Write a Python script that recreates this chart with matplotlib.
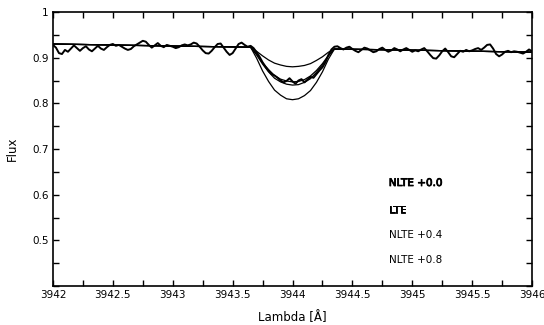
import numpy as np
import matplotlib
matplotlib.use('Agg')
import matplotlib.pyplot as plt
import matplotlib.patheffects as pe
from matplotlib.ticker import MultipleLocator

# observed spectrum, sampled every 0.025 A from 3942 to 3946
obs_lambda = np.linspace(3942.0, 3946.0, 161)
obs_flux = [
    0.928, 0.922, 0.910, 0.908, 0.917, 0.913, 0.920, 0.927, 0.921, 0.915,
    0.921, 0.925, 0.918, 0.914, 0.920, 0.926, 0.920, 0.917, 0.923, 0.928,
    0.930, 0.926, 0.928, 0.924, 0.920, 0.917, 0.919, 0.925, 0.929, 0.933,
    0.937, 0.935, 0.928, 0.922, 0.927, 0.932, 0.926, 0.923, 0.928, 0.926,
    0.924, 0.921, 0.923, 0.927, 0.929, 0.927, 0.929, 0.933, 0.931, 0.924,
    0.916, 0.910, 0.909, 0.915, 0.923, 0.930, 0.931, 0.922, 0.913, 0.906,
    0.910, 0.920, 0.930, 0.933, 0.928, 0.924, 0.926, 0.921, 0.912, 0.902,
    0.890, 0.880, 0.871, 0.864, 0.861, 0.856, 0.850, 0.846, 0.849, 0.855,
    0.848, 0.843, 0.850, 0.853, 0.846, 0.852, 0.858, 0.856, 0.864, 0.872,
    0.879, 0.890, 0.906, 0.918, 0.924, 0.925, 0.921, 0.918, 0.922, 0.924,
    0.919, 0.915, 0.912, 0.917, 0.922, 0.920, 0.916, 0.912, 0.914, 0.919,
    0.922, 0.917, 0.913, 0.916, 0.921, 0.918, 0.914, 0.918, 0.921, 0.917,
    0.913, 0.916, 0.914, 0.918, 0.921, 0.914, 0.906, 0.899, 0.898, 0.905,
    0.914, 0.920, 0.912, 0.903, 0.901, 0.908, 0.915, 0.913, 0.917, 0.914,
    0.916, 0.919, 0.921, 0.917, 0.922, 0.928, 0.929, 0.920, 0.908, 0.903,
    0.907, 0.913, 0.915, 0.912, 0.914, 0.913, 0.911, 0.909, 0.913, 0.918,
    0.914,
]

# synthetic profiles
model_lambda = [3942.0, 3943.0, 3943.65, 3943.7, 3943.75, 3943.8, 3943.85,
                3943.9, 3943.95, 3944.0, 3944.05, 3944.1, 3944.15, 3944.2,
                3944.25, 3944.3, 3944.35, 3945.0, 3946.0]
nlte_00 = [0.930, 0.9255, 0.923, 0.914, 0.904, 0.895, 0.888, 0.884, 0.881,
           0.880, 0.881, 0.883, 0.887, 0.894, 0.902, 0.912, 0.919, 0.9165, 0.912]
lte = [0.930, 0.9255, 0.923, 0.908, 0.889, 0.874, 0.861, 0.853, 0.849,
       0.847, 0.848, 0.852, 0.860, 0.872, 0.887, 0.905, 0.919, 0.9165, 0.912]
nlte_04 = [0.930, 0.9255, 0.923, 0.906, 0.886, 0.869, 0.855, 0.847, 0.842,
           0.840, 0.841, 0.846, 0.854, 0.868, 0.884, 0.904, 0.919, 0.9165, 0.912]
nlte_08 = [0.930, 0.9255, 0.923, 0.899, 0.871, 0.848, 0.829, 0.818, 0.810,
           0.808, 0.810, 0.817, 0.828, 0.846, 0.869, 0.897, 0.919, 0.9165, 0.912]

labels = ['NLTE +0.0', 'LTE', 'NLTE +0.4', 'NLTE +0.8']
xticks = [3942, 3942.5, 3943, 3943.5, 3944, 3944.5, 3945, 3945.5, 3946]
xtick_labels = ['3942', '3942.5', '3943', '3943.5', '3944', '3944.5',
                '3945', '3945.5', '3946']
yticks = [0.5, 0.6, 0.7, 0.8, 0.9, 1.0]
ytick_labels = ['0.5', '0.6', '0.7', '0.8', '0.9', '1']

fig = plt.figure(figsize=(5.44, 3.25), dpi=100)
ax = fig.add_axes([0.0974, 0.12, 0.8806, 0.843])

for model in [nlte_00, lte, nlte_04, nlte_08]:
    ax.plot(model_lambda, model, color='black', lw=0.9)
ax.plot(obs_lambda, obs_flux, color='black', lw=1.4)

ax.set_xlim(3942, 3946)
ax.set_ylim(0.4, 1.0)
ax.set_xticks(xticks)
ax.set_xticklabels(xtick_labels)
ax.set_yticks(yticks)
ax.set_yticklabels(ytick_labels)
ax.xaxis.set_minor_locator(MultipleLocator(0.25))
ax.yaxis.set_minor_locator(MultipleLocator(0.05))
ax.tick_params(which='both', direction='in', top=True, right=True,
               labelsize=7.5, width=1.0)
ax.tick_params(which='major', length=4, pad=3)
ax.tick_params(which='minor', length=4)
for s in ax.spines.values():
    s.set_linewidth(1.2)

ax.set_xlabel('Lambda [Å]', fontsize=8.5, labelpad=8)
ax.set_ylabel('Flux', fontsize=8.5, labelpad=10)

# first two labels are printed a little heavier in the original
ypos = [0.376, 0.277, 0.186, 0.095]
strokes = [0.6, 0.6, 0.0, 0.0]
for lab, yp, sw in zip(labels, ypos, strokes):
    t = ax.text(0.701, yp, lab, transform=ax.transAxes, fontsize=7.5,
                va='center', ha='left')
    if sw > 0:
        t.set_path_effects([pe.withStroke(linewidth=sw, foreground='black')])

fig.savefig('out.png', dpi=100)
